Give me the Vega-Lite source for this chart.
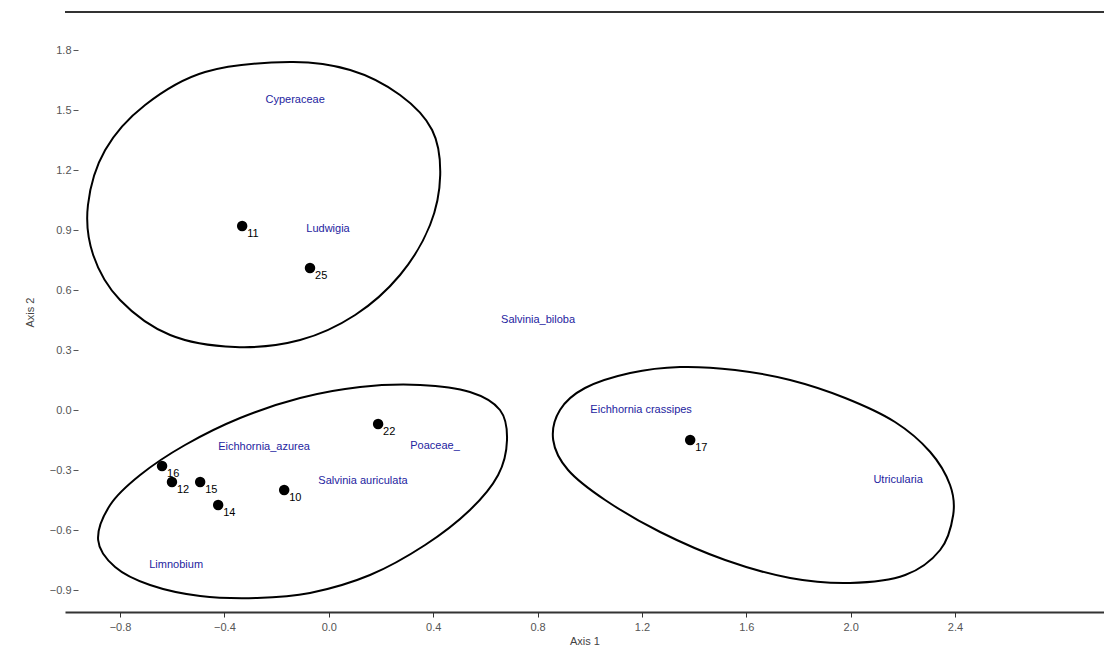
{
  "$schema": "https://vega.github.io/schema/vega-lite/v6.json",
  "width": 1039,
  "height": 600,
  "autosize": {"type": "none"},
  "padding": {"left": 65, "top": 12, "right": 0, "bottom": 43},
  "background": "white",
  "config": {
    "view": {"stroke": null},
    "font": "Liberation Sans"
  },
  "datasets": {
    "ellipses": [
      {"g": "A", "i": 1, "x": -0.148, "y": 1.74},
      {"g": "A", "i": 2, "x": 0.082, "y": 1.7},
      {"g": "A", "i": 3, "x": 0.273, "y": 1.575},
      {"g": "A", "i": 4, "x": 0.396, "y": 1.4},
      {"g": "A", "i": 5, "x": 0.427, "y": 1.175},
      {"g": "A", "i": 6, "x": 0.388, "y": 0.925},
      {"g": "A", "i": 7, "x": 0.273, "y": 0.675},
      {"g": "A", "i": 8, "x": 0.101, "y": 0.475},
      {"g": "A", "i": 9, "x": -0.11, "y": 0.35},
      {"g": "A", "i": 10, "x": -0.359, "y": 0.315},
      {"g": "A", "i": 11, "x": -0.608, "y": 0.375},
      {"g": "A", "i": 12, "x": -0.8, "y": 0.55},
      {"g": "A", "i": 13, "x": -0.903, "y": 0.775},
      {"g": "A", "i": 14, "x": -0.923, "y": 1.025},
      {"g": "A", "i": 15, "x": -0.857, "y": 1.3},
      {"g": "A", "i": 16, "x": -0.704, "y": 1.525},
      {"g": "A", "i": 17, "x": -0.474, "y": 1.69},
      {"g": "B", "i": 1, "x": -0.884, "y": -0.65},
      {"g": "B", "i": 2, "x": -0.838, "y": -0.475},
      {"g": "B", "i": 3, "x": -0.723, "y": -0.325},
      {"g": "B", "i": 4, "x": -0.551, "y": -0.175},
      {"g": "B", "i": 5, "x": -0.34, "y": -0.04},
      {"g": "B", "i": 6, "x": -0.11, "y": 0.06},
      {"g": "B", "i": 7, "x": 0.12, "y": 0.115},
      {"g": "B", "i": 8, "x": 0.35, "y": 0.125},
      {"g": "B", "i": 9, "x": 0.541, "y": 0.09},
      {"g": "B", "i": 10, "x": 0.656, "y": 0.0},
      {"g": "B", "i": 11, "x": 0.683, "y": -0.15},
      {"g": "B", "i": 12, "x": 0.649, "y": -0.325},
      {"g": "B", "i": 13, "x": 0.541, "y": -0.5},
      {"g": "B", "i": 14, "x": 0.369, "y": -0.675},
      {"g": "B", "i": 15, "x": 0.158, "y": -0.825},
      {"g": "B", "i": 16, "x": -0.072, "y": -0.915},
      {"g": "B", "i": 17, "x": -0.275, "y": -0.94},
      {"g": "B", "i": 18, "x": -0.493, "y": -0.93},
      {"g": "B", "i": 19, "x": -0.685, "y": -0.875},
      {"g": "B", "i": 20, "x": -0.819, "y": -0.785},
      {"g": "C", "i": 1, "x": 0.86, "y": -0.15},
      {"g": "C", "i": 2, "x": 0.886, "y": 0.0},
      {"g": "C", "i": 3, "x": 0.982, "y": 0.11},
      {"g": "C", "i": 4, "x": 1.155, "y": 0.185},
      {"g": "C", "i": 5, "x": 1.346, "y": 0.215},
      {"g": "C", "i": 6, "x": 1.557, "y": 0.2},
      {"g": "C", "i": 7, "x": 1.768, "y": 0.15},
      {"g": "C", "i": 8, "x": 1.979, "y": 0.06},
      {"g": "C", "i": 9, "x": 2.17, "y": -0.06},
      {"g": "C", "i": 10, "x": 2.305, "y": -0.21},
      {"g": "C", "i": 11, "x": 2.381, "y": -0.375},
      {"g": "C", "i": 12, "x": 2.393, "y": -0.525},
      {"g": "C", "i": 13, "x": 2.343, "y": -0.7},
      {"g": "C", "i": 14, "x": 2.209, "y": -0.825},
      {"g": "C", "i": 15, "x": 1.998, "y": -0.865},
      {"g": "C", "i": 16, "x": 1.768, "y": -0.84},
      {"g": "C", "i": 17, "x": 1.519, "y": -0.75},
      {"g": "C", "i": 18, "x": 1.27, "y": -0.61},
      {"g": "C", "i": 19, "x": 1.059, "y": -0.45},
      {"g": "C", "i": 20, "x": 0.917, "y": -0.3}
    ],
    "sites": [
      {"site": "11", "x": -0.332, "y": 0.92},
      {"site": "25", "x": -0.072, "y": 0.71},
      {"site": "22", "x": 0.189, "y": -0.07},
      {"site": "17", "x": 1.385, "y": -0.15},
      {"site": "16", "x": -0.639, "y": -0.28},
      {"site": "12", "x": -0.601, "y": -0.36},
      {"site": "15", "x": -0.493, "y": -0.36},
      {"site": "14", "x": -0.424, "y": -0.475},
      {"site": "10", "x": -0.171, "y": -0.4}
    ],
    "species": [
      {"sp": "Cyperaceae", "x": -0.129, "y": 1.55},
      {"sp": "Ludwigia", "x": -0.003, "y": 0.905},
      {"sp": "Salvinia_biloba", "x": 0.802, "y": 0.45},
      {"sp": "Eichhornia_azurea", "x": -0.248, "y": -0.185},
      {"sp": "Poaceae_", "x": 0.407, "y": -0.18},
      {"sp": "Salvinia auriculata", "x": 0.131, "y": -0.355},
      {"sp": "Limnobium", "x": -0.585, "y": -0.775},
      {"sp": "Eichhornia crassipes", "x": 1.197, "y": 0.0},
      {"sp": "Utricularia", "x": 2.182, "y": -0.35}
    ]
  },
  "layer": [
    {
      "data": {"name": "ellipses"},
      "mark": {"type": "line", "interpolate": "cardinal-closed", "color": "#000000", "strokeWidth": 2},
      "encoding": {
        "x": {
          "field": "x", "type": "quantitative",
          "scale": {"domain": [-1.011, 2.971], "nice": false, "zero": false},
          "axis": {
            "title": "Axis 1", "values": [-0.8, -0.4, 0, 0.4, 0.8, 1.2, 1.6, 2, 2.4],
            "grid": false, "domain": true, "domainColor": "#333333", "domainWidth": 2,
            "ticks": true, "tickSize": 5, "tickColor": "#333333", "tickWidth": 1,
            "labelColor": "#555555", "labelFontSize": 11, "labelPadding": 4,
            "titleFontSize": 11, "titleFontWeight": "normal", "titleColor": "#444444", "titlePadding": 3
          }
        },
        "y": {
          "field": "y", "type": "quantitative",
          "scale": {"domain": [-1.01, 1.99], "nice": false, "zero": false},
          "axis": {
            "title": "Axis 2", "values": [-0.9, -0.6, -0.3, 0, 0.3, 0.6, 0.9, 1.2, 1.5, 1.8],
            "grid": false, "domain": false, "offset": -13,
            "ticks": true, "tickSize": 5, "tickColor": "#555555",
            "labelColor": "#555555", "labelFontSize": 11, "labelPadding": 2,
            "titleFontSize": 11, "titleFontWeight": "normal", "titleColor": "#444444", "titlePadding": 14
          }
        },
        "detail": {"field": "g"},
        "order": {"field": "i", "type": "quantitative"}
      }
    },
    {
      "data": {"values": [{"top": 1.99}]},
      "mark": {"type": "rule", "color": "#333333", "strokeWidth": 2},
      "encoding": {
        "y": {"field": "top", "type": "quantitative", "scale": {"domain": [-1.01, 1.99], "nice": false, "zero": false}}
      }
    },
    {
      "data": {"name": "sites"},
      "mark": {"type": "point", "filled": true, "color": "#000000", "size": 110, "opacity": 1},
      "encoding": {
        "x": {"field": "x", "type": "quantitative", "scale": {"domain": [-1.011, 2.971], "nice": false, "zero": false}},
        "y": {"field": "y", "type": "quantitative", "scale": {"domain": [-1.01, 1.99], "nice": false, "zero": false}}
      }
    },
    {
      "data": {"name": "sites"},
      "mark": {"type": "text", "align": "left", "baseline": "middle", "dx": 5, "dy": 8, "fontSize": 11, "color": "#000000"},
      "encoding": {
        "x": {"field": "x", "type": "quantitative", "scale": {"domain": [-1.011, 2.971], "nice": false, "zero": false}},
        "y": {"field": "y", "type": "quantitative", "scale": {"domain": [-1.01, 1.99], "nice": false, "zero": false}},
        "text": {"field": "site"}
      }
    },
    {
      "data": {"name": "species"},
      "mark": {"type": "text", "align": "center", "baseline": "middle", "fontSize": 11, "color": "#2424a0"},
      "encoding": {
        "x": {"field": "x", "type": "quantitative", "scale": {"domain": [-1.011, 2.971], "nice": false, "zero": false}},
        "y": {"field": "y", "type": "quantitative", "scale": {"domain": [-1.01, 1.99], "nice": false, "zero": false}},
        "text": {"field": "sp"}
      }
    }
  ]
}
